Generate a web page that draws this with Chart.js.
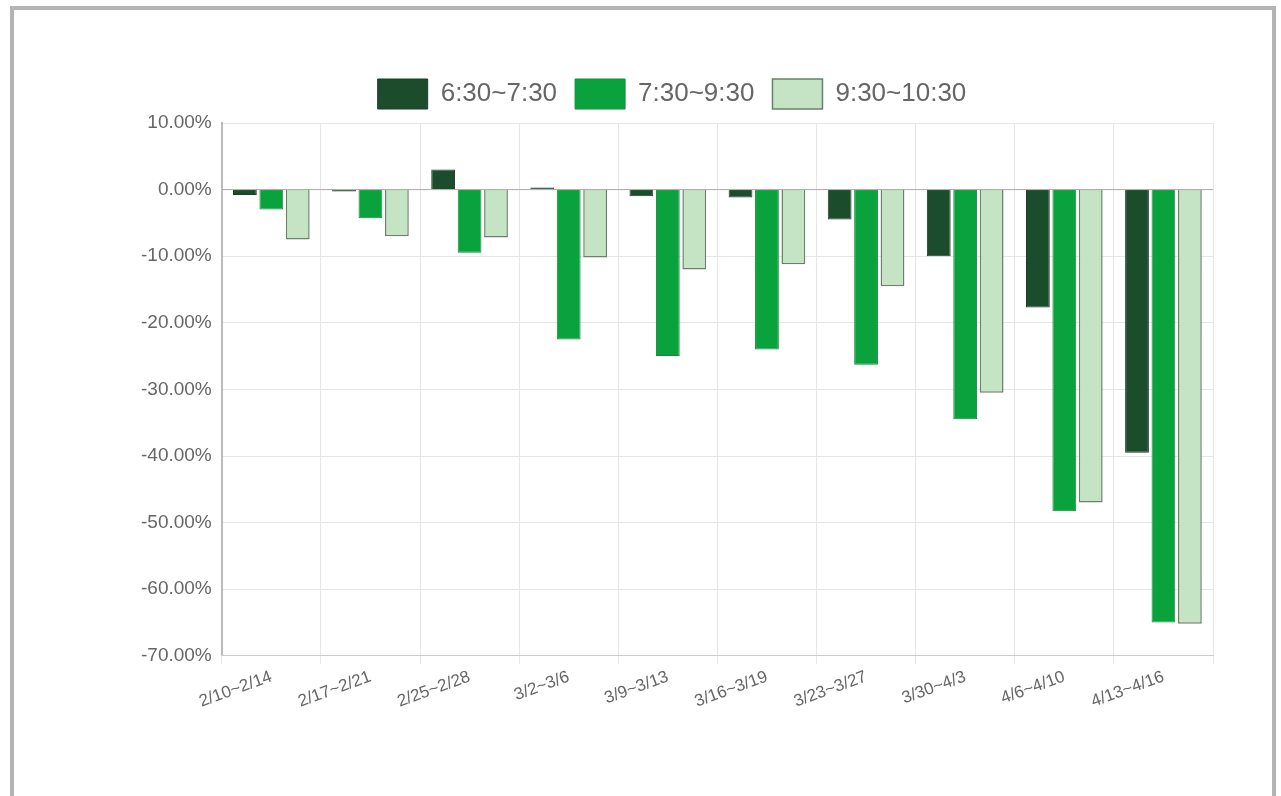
<!DOCTYPE html>
<html><head><meta charset="utf-8">
<script src="https://cdn.jsdelivr.net/npm/chart.js@4/dist/chart.umd.min.js"></script>
<style>
body{margin:0;background:#fff;overflow:hidden;font-family:"Liberation Sans",Arial,sans-serif}
#frame{position:absolute;left:10px;top:6px;width:1266px;height:820px;border:4px solid #b4b4b4;border-bottom:none;box-sizing:border-box}
#wrap{position:absolute;left:131px;top:61px;width:1106px;height:654px}
</style></head><body>
<div id="frame"></div>
<div id="wrap"><canvas id="c"></canvas></div>
<script>
const categories = ['2/10~2/14','2/17~2/21','2/25~2/28','3/2~3/6','3/9~3/13','3/16~3/19','3/23~3/27','3/30~4/3','4/6~4/10','4/13~4/16'];
const early = [-0.8,-0.3,3.0,0.3,-1.0,-1.2,-4.5,-10.0,-17.7,-39.5];
const peak = [-3.0,-4.3,-9.5,-22.5,-25.0,-24.0,-26.3,-34.5,-48.3,-65.0];
const late = [-7.5,-7.0,-7.2,-10.2,-12.0,-11.2,-14.5,-30.5,-47.0,-65.2];
const yTicks = [10,0,-10,-20,-30,-40,-50,-60,-70];

new Chart(document.getElementById('c'), {
  type: 'bar',
  data: {
    labels: categories,
    datasets: [
      { label: '6:30~7:30', data: early, backgroundColor: '#1b4d2c', borderColor: '#223a28', borderWidth: 1 },
      { label: '7:30~9:30', data: peak, backgroundColor: '#0aa23c', borderColor: '#168a3a', borderWidth: 1 },
      { label: '9:30~10:30', data: late, backgroundColor: '#c4e4c4', borderColor: '#6b7f6b', borderWidth: 1.5 }
    ]
  },
  options: {
    responsive: true, maintainAspectRatio: false, animation: false,
    layout: { padding: { right: 24 } },
    categoryPercentage: 0.8, barPercentage: 0.9,
    scales: {
      y: {
        min: -70, max: 10,
        afterBuildTicks: (axis) => { axis.ticks = yTicks.map(v => ({ value: v })); },
        grid: { color: '#e6e6e6', drawTicks: false },
        border: { color: '#bbb', width: 2 },
        ticks: { color: '#666', padding: 10, font: { size: 19, family: 'Liberation Sans' }, callback: v => v.toFixed(2) + '%' }
      },
      x: {
        grid: { color: '#e6e6e6', offset: true, tickLength: 8 },
        border: { color: '#ccc' },
        ticks: { color: '#666', maxRotation: 20, minRotation: 20, font: { size: 17, family: 'Liberation Sans' } }
      }
    },
    plugins: {
      legend: {
        labels: { boxWidth: 50, boxHeight: 30, padding: 18, color: '#666', font: { size: 26, family: 'Liberation Sans' } }
      },
      tooltip: { enabled: false }
    }
  },
  plugins: [{
    id: 'legendGap',
    beforeInit(chart) {
      const fit = chart.legend.fit;
      chart.legend.fit = function() { fit.bind(chart.legend)(); this.height += 4; };
    }
  }, {
    id: 'zeroLine',
    afterDraw(chart) {
      const { ctx, chartArea, scales } = chart;
      const y = scales.y.getPixelForValue(0);
      ctx.save(); ctx.strokeStyle = '#aaa'; ctx.lineWidth = 1;
      ctx.beginPath(); ctx.moveTo(chartArea.left, y); ctx.lineTo(chartArea.right, y); ctx.stroke();
      ctx.restore();
    }
  }]
});
</script>
</body></html>
